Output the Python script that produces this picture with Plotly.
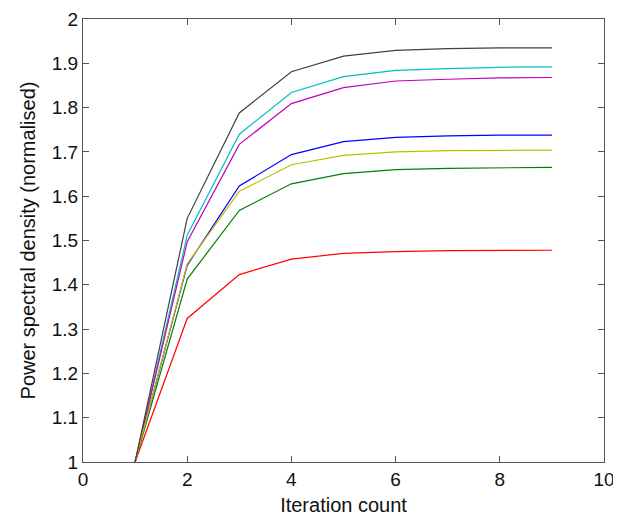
import plotly.graph_objects as go

iterations = [1, 2, 3, 4, 5, 6, 7, 8, 9]

black = [1.0, 1.550, 1.788, 1.881, 1.916, 1.929, 1.933, 1.935, 1.935]
cyan = [1.0, 1.512, 1.740, 1.834, 1.870, 1.884, 1.888, 1.891, 1.892]
magenta = [1.0, 1.497, 1.717, 1.809, 1.845, 1.860, 1.864, 1.867, 1.868]
blue = [1.0, 1.444, 1.623, 1.694, 1.723, 1.733, 1.736, 1.738, 1.738]
yellow = [1.0, 1.447, 1.611, 1.671, 1.692, 1.700, 1.703, 1.704, 1.704]
green = [1.0, 1.413, 1.568, 1.628, 1.651, 1.660, 1.663, 1.664, 1.665]
red = [1.0, 1.324, 1.423, 1.458, 1.471, 1.475, 1.477, 1.478, 1.478]

series = [
    (blue, "#0000ff"),
    (green, "#008000"),
    (red, "#ff0000"),
    (cyan, "#00bfbf"),
    (magenta, "#bf00bf"),
    (yellow, "#bfbf00"),
    (black, "#404040"),
]

fig = go.Figure()
for vals, col in series:
    fig.add_trace(go.Scatter(x=iterations, y=vals, mode="lines",
                             line=dict(color=col, width=1.2), showlegend=False))

axis_style = dict(
    showline=True, linecolor="#555555", linewidth=1, mirror="ticks",
    ticks="inside", ticklen=6, tickcolor="#555555", showgrid=False, zeroline=False,
    tickfont=dict(size=19, color="#111111"), automargin=False,
)

fig.update_xaxes(range=[0, 10], dtick=2, title=dict(text="Iteration count", font=dict(size=20), standoff=9),
                 **axis_style)
fig.update_yaxes(range=[1, 2], dtick=0.1, tickformat="~g",
                 title=dict(text="Power spectral density (normalised)", font=dict(size=20), standoff=10),
                 **axis_style)

# page body adds an 8px margin, so the figure is shifted and sized to compensate
fig.update_layout(
    width=613, height=509,
    margin=dict(l=75, r=17, t=11, b=55),
    paper_bgcolor="white", plot_bgcolor="white",
    font=dict(family="Liberation Sans, Arial, sans-serif", color="#111111"),
)

fig.write_html("out.html")
